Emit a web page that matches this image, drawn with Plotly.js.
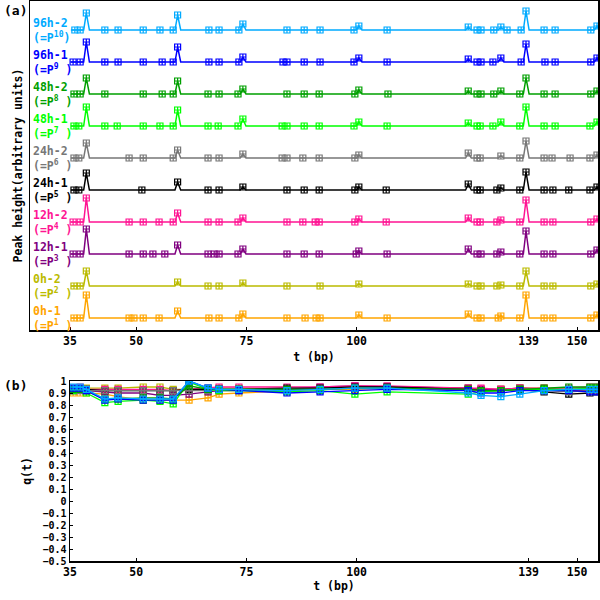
<!DOCTYPE html>
<html>
<head>
<meta charset="utf-8">
<script src="https://cdn.plot.ly/plotly-3.0.1.min.js"></script>
<style>
html, body { margin: 0; padding: 0; background: #fff; }
#chart { width: 600px; height: 600px; }
</style>
</head>
<body>
<div id="chart"></div>
<script>
// samples from the bottom of panel (a) to the top
const sampleNames = ["0h-1", "0h-2", "12h-1", "12h-2", "24h-1", "24h-2", "48h-1", "48h-2", "96h-1", "96h-2"];
const sampleTags = ["1", "2", "3", "4", "5", "6", "7", "8", "9", "10"];
const sampleColors = ["#ffa500", "#bbbb00", "#800080", "#ff1493", "#000000", "#777777", "#00ff00", "#00a000", "#0000ff", "#00aaff"];

const tTicks = [35, 50, 75, 100, 139, 150];

// peak positions (bp) and peak heights per sample (arbitrary units)
const peakPos = [38.7, 59.4, 74.2, 100.5, 125.3, 132.7, 138.4, 154.5];
const peaks0h1 = [23, 7, 4, 3, 4, 2, 23, 3];
const peaks0h2 = [15, 4, 3, 2, 2, 1, 15, 2];
const peaks12h1 = [25, 9, 5, 3, 5, 2, 23, 4];
const peaks12h2 = [24, 9, 4, 3, 4, 2, 22, 3];
const peaks24h1 = [17, 8, 3, 3, 6, 2, 18, 3];
const peaks24h2 = [15, 8, 4, 3, 5, 2, 17, 3];
const peaks48h1 = [19, 16, 7, 4, 3, 4, 19, 4];
const peaks48h2 = [16, 13, 5, 4, 3, 3, 16, 3];
const peaks96h1 = [20, 15, 5, 4, 3, 4, 18, 4];
const peaks96h2 = [17, 15, 6, 4, 3, 3, 19, 4];

// marked positions that sit on the baseline
const marks0h1 = [35.9, 37.3, 48.4, 49.5, 51.6, 55.2, 66.5, 68.8, 73.3, 84.2, 88.3, 90.8, 91.7, 106.9, 127.3, 128.2, 132.1, 137.0, 142.5, 144.5, 153.1];
const marks0h2 = [35.9, 37.3, 66.3, 68.8, 84.2, 91.7, 127.3, 128.2, 131.8, 137.0, 142.5, 144.5, 153.1];
const marks12h1 = [35.7, 37.3, 48.4, 51.6, 53.8, 56.5, 66.3, 67.7, 68.8, 73.1, 84.2, 88.1, 91.5, 99.9, 106.9, 127.3, 128.2, 131.8, 137.0, 142.5, 144.5, 153.1];
const marks12h2 = [35.7, 37.3, 48.4, 51.6, 55.2, 58.4, 66.3, 68.8, 73.1, 84.2, 87.8, 90.6, 91.5, 99.6, 106.7, 127.3, 128.0, 131.8, 137.0, 142.5, 144.5, 153.1];
const marks24h1 = [35.9, 37.0, 51.3, 66.3, 68.8, 84.2, 88.1, 91.5, 99.6, 106.7, 127.3, 128.0, 131.8, 137.0, 142.5, 144.5, 148.1, 152.9];
const marks24h2 = [35.9, 37.0, 48.4, 51.6, 58.4, 66.3, 68.8, 83.1, 84.2, 87.8, 91.5, 99.6, 127.3, 128.0, 137.0, 142.5, 144.3, 148.4, 152.9];
const marks48h1 = [35.9, 37.0, 42.9, 45.7, 51.6, 55.4, 58.4, 66.3, 68.6, 73.1, 83.1, 84.2, 88.1, 91.5, 99.4, 106.9, 127.3, 128.0, 130.9, 137.0, 142.5, 145.0, 152.9];
const marks48h2 = [35.9, 37.3, 42.9, 51.6, 55.9, 58.4, 66.3, 68.8, 73.1, 84.2, 88.1, 91.5, 99.6, 107.1, 127.3, 128.2, 131.1, 137.0, 142.5, 145.0, 153.1];
const marks96h1 = [35.7, 37.3, 42.9, 45.9, 51.6, 55.9, 58.4, 66.5, 68.8, 73.3, 83.3, 84.2, 88.1, 91.7, 99.4, 106.9, 127.3, 128.2, 130.9, 137.3, 142.7, 145.0, 153.1];
const marks96h2 = [36.1, 37.3, 42.9, 45.9, 51.6, 55.4, 58.4, 66.5, 68.8, 73.3, 84.2, 88.1, 91.7, 99.4, 106.9, 127.3, 128.2, 131.1, 134.1, 137.3, 142.5, 145.0, 153.1];

// panel (b): q(t)
const qT = [35.7, 37.3, 38.7, 42.9, 45.9, 51.6, 55.4, 58.4, 62.0, 66.3, 68.8, 73.3, 84.2, 91.7, 99.6, 106.9, 125.3, 128.2, 132.7, 137.0, 142.5, 148.1, 152.9, 154.5];
const q0h1 = [0.90, 0.90, 0.90, 0.89, 0.87, 0.84, 0.84, 0.84, 0.84, 0.86, 0.89, 0.90, 0.92, 0.93, 0.93, 0.94, 0.93, 0.93, 0.93, 0.94, 0.93, 0.93, 0.93, 0.93];
const q0h2 = [0.93, 0.93, 0.94, 0.94, 0.94, 0.95, 0.95, 0.93, 0.93, 0.94, 0.94, 0.94, 0.93, 0.94, 0.95, 0.95, 0.94, 0.93, 0.93, 0.94, 0.94, 0.93, 0.94, 0.94];
const q12h1 = [0.92, 0.93, 0.92, 0.91, 0.90, 0.90, 0.88, 0.88, 0.89, 0.91, 0.92, 0.92, 0.93, 0.95, 0.96, 0.95, 0.94, 0.93, 0.93, 0.94, 0.93, 0.92, 0.92, 0.92];
const q12h2 = [0.94, 0.95, 0.93, 0.93, 0.93, 0.93, 0.93, 0.92, 0.93, 0.94, 0.95, 0.95, 0.95, 0.95, 0.96, 0.96, 0.94, 0.94, 0.93, 0.94, 0.94, 0.94, 0.95, 0.95];
const q24h1 = [0.93, 0.93, 0.93, 0.92, 0.92, 0.92, 0.92, 0.92, 0.93, 0.93, 0.93, 0.93, 0.94, 0.94, 0.95, 0.95, 0.93, 0.92, 0.92, 0.93, 0.91, 0.89, 0.90, 0.91];
const q24h2 = [0.92, 0.92, 0.92, 0.92, 0.92, 0.92, 0.92, 0.92, 0.92, 0.92, 0.93, 0.93, 0.93, 0.93, 0.94, 0.94, 0.92, 0.92, 0.92, 0.93, 0.92, 0.91, 0.92, 0.92];
const q48h1 = [0.92, 0.93, 0.90, 0.82, 0.83, 0.84, 0.83, 0.81, 0.99, 0.93, 0.92, 0.92, 0.91, 0.92, 0.89, 0.91, 0.89, 0.91, 0.92, 0.93, 0.93, 0.93, 0.94, 0.94];
const q48h2 = [0.93, 0.93, 0.92, 0.85, 0.85, 0.86, 0.86, 0.85, 0.96, 0.93, 0.93, 0.93, 0.93, 0.93, 0.94, 0.94, 0.93, 0.92, 0.92, 0.93, 0.94, 0.95, 0.95, 0.95];
const q96h1 = [0.94, 0.94, 0.92, 0.84, 0.85, 0.84, 0.84, 0.84, 1.00, 0.94, 0.93, 0.92, 0.90, 0.91, 0.92, 0.93, 0.92, 0.90, 0.90, 0.92, 0.92, 0.92, 0.91, 0.91];
const q96h2 = [0.95, 0.95, 0.93, 0.85, 0.86, 0.85, 0.85, 0.85, 1.00, 0.94, 0.93, 0.93, 0.92, 0.93, 0.94, 0.94, 0.90, 0.88, 0.87, 0.89, 0.92, 0.93, 0.93, 0.93];

const peakSets = [peaks0h1, peaks0h2, peaks12h1, peaks12h2, peaks24h1, peaks24h2, peaks48h1, peaks48h2, peaks96h1, peaks96h2];
const markSets = [marks0h1, marks0h2, marks12h1, marks12h2, marks24h1, marks24h2, marks48h1, marks48h2, marks96h1, marks96h2];
const qSets = [q0h1, q0h2, q12h1, q12h2, q24h1, q24h2, q48h1, q48h2, q96h1, q96h2];

const traceGap = 32;      // vertical offset between stacked profiles
const traceStart = 35.2;
const traceEnd = 156;
const fontFamily = "DejaVu Sans Mono";

const Chart = {
    fun: {
        // baseline with a narrow spike at every peak
        profile: (heights, base) => {
            let x = [traceStart];
            let y = [base];
            peakPos.forEach((p, j) => {
                x.push(p - 0.6, p, p + 0.7);
                y.push(base, base + heights[j], base);
            });
            x.push(traceEnd);
            y.push(base);
            return { x: x, y: y };
        },
        font: (size, color) => ({ family: fontFamily, size: size, color: color, weight: "bold" })
    },
    build: () => {
        let data = [];
        let annotations = [];
        sampleNames.forEach((name, i) => {
            let base = i * traceGap;
            let color = sampleColors[i];
            let prof = Chart.fun.profile(peakSets[i], base);
            data.push({
                x: prof.x, y: prof.y, xaxis: "x", yaxis: "y",
                type: "scatter", mode: "lines",
                line: { color: color, width: 1.5 },
                hoverinfo: "skip"
            });
            data.push({
                x: markSets[i].concat(peakPos),
                y: markSets[i].map(() => base).concat(peakSets[i].map(h => base + h)),
                xaxis: "x", yaxis: "y",
                type: "scatter", mode: "markers",
                marker: { symbol: "square-cross-open", size: 6, color: color, line: { color: color, width: 1.2 } },
                name: name
            });
            data.push({
                x: qT, y: qSets[i], xaxis: "x2", yaxis: "y2",
                type: "scatter", mode: "lines+markers",
                line: { color: color, width: 1.3 },
                marker: { symbol: "square-cross-open", size: 6, color: color, line: { color: color, width: 1.2 } },
                name: name
            });
            let tag = sampleTags[i];
            annotations.push({
                xref: "x", yref: "y", x: 26.1, y: base, yshift: 0,
                xanchor: "left", yanchor: "middle", align: "left", showarrow: false,
                text: name + "<br>(=P<sup>" + tag + "</sup>" + (tag.length < 2 ? " " : "") + ")",
                font: Chart.fun.font(11.5, color)
            });
        });
        annotations.push({
            xref: "paper", yref: "paper", x: 0.004, y: 0.983, xanchor: "left", yanchor: "middle",
            showarrow: false, text: "(a)", font: Chart.fun.font(13, "#000")
        });
        annotations.push({
            xref: "paper", yref: "paper", x: 0.004, y: 0.358, xanchor: "left", yanchor: "middle",
            showarrow: false, text: "(b)", font: Chart.fun.font(13, "#000")
        });

        let axisBase = {
            showline: true, mirror: true, linecolor: "#000", linewidth: 1.5,
            showgrid: false, zeroline: false,
            ticks: "inside", ticklen: 3, tickcolor: "#000",
            tickfont: Chart.fun.font(11.5, "#000")
        };
        let layout = {
            width: 600, height: 600,
            margin: { l: 0, r: 0, t: 0, b: 0 },
            paper_bgcolor: "#fff", plot_bgcolor: "#fff",
            showlegend: false,
            font: Chart.fun.font(11.5, "#000"),
            xaxis: Object.assign({}, axisBase, {
                domain: [0.05, 0.9967], range: [25.93, 154.73], anchor: "y",
                tickmode: "array", tickvals: tTicks, ticktext: tTicks.map(String),
                title: { text: "t (bp)", font: Chart.fun.font(11.5, "#000"), standoff: 5 }
            }),
            yaxis: Object.assign({}, axisBase, {
                domain: [0.45, 0.9983], range: [-12, 317], anchor: "x",
                showticklabels: false, ticks: "",
                title: { text: "Peak height(arbitrary units)", font: Chart.fun.font(11.5, "#000"), standoff: 3 }
            }),
            xaxis2: Object.assign({}, axisBase, {
                domain: [0.1167, 0.9967], range: [35, 154.73], anchor: "y2",
                tickmode: "array", tickvals: tTicks, ticktext: tTicks.map(String),
                title: { text: "t (bp)", font: Chart.fun.font(11.5, "#000"), standoff: 2 }
            }),
            yaxis2: Object.assign({}, axisBase, {
                domain: [0.065, 0.365], range: [-0.5, 1], anchor: "x2",
                dtick: 0.1, tick0: 0,
                tickfont: Chart.fun.font(10, "#000"),
                title: { text: "q(t)", font: Chart.fun.font(11.5, "#000"), standoff: 8 }
            }),
            annotations: annotations
        };
        Plotly.newPlot("chart", data, layout, { displayModeBar: false, staticPlot: true });
    }
};

Chart.build();
</script>
</body>
</html>
